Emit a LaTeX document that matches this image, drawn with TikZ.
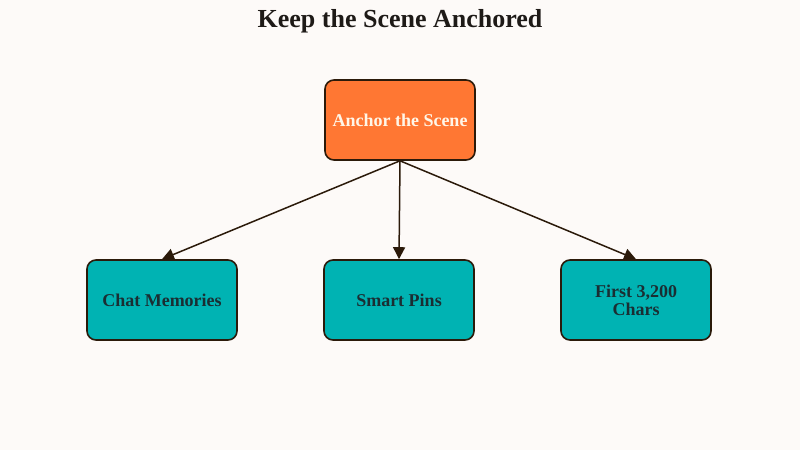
\documentclass[tikz,border=0pt]{standalone}
\usepackage{fontspec}
\setmainfont{Liberation Serif}
\usetikzlibrary{arrows.meta}
\definecolor{bg}{HTML}{FDFAF8}
\definecolor{orangebox}{HTML}{FF7733}
\definecolor{tealbox}{HTML}{00B3B3}
\definecolor{edge}{HTML}{2B1A0A}
\definecolor{darktext}{HTML}{1A2E33}
\definecolor{lighttext}{HTML}{FFF6E8}
\definecolor{titletext}{HTML}{1E1A17}
\tikzset{
  box/.style={draw=edge, line width=1.6pt, rounded corners=9pt, minimum width=150pt, minimum height=80pt, align=center, inner sep=2pt, font=\bfseries\fontsize{18}{18}\selectfont},
  rootbox/.style={box, fill=orangebox, text=lighttext},
  leafbox/.style={box, fill=tealbox, text=darktext},
  link/.style={draw=edge, line width=1.5pt, -{Triangle[length=12pt, width=12pt]}}
}
\begin{document}
\begin{tikzpicture}[x=1pt, y=-1pt]
\fill[bg] (0,0) rectangle (800,450);
\useasboundingbox (0,0) rectangle (800,450);
\node[font=\bfseries\fontsize{26}{28}\selectfont, text=titletext] (title) at (400,21) {Keep the Scene Anchored};
\node[rootbox] (root) at (400,120) {Anchor the Scene};
\node[leafbox] (chat) at (162,300) {Chat Memories};
\node[leafbox] (pins) at (399,300) {Smart Pins};
\node[leafbox] (first) at (636,300) {First 3,200\\Chars};
\draw[link] (root.south) -- (chat.north);
\draw[link] (root.south) -- (pins.north);
\draw[link] (root.south) -- (first.north);
\end{tikzpicture}
\end{document}
